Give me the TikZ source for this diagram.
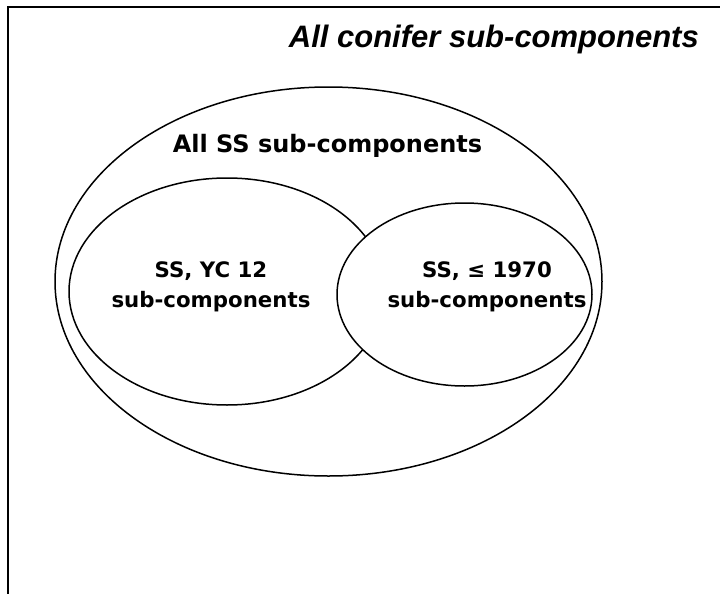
\documentclass[tikz,border=0pt]{standalone}
\usepackage{fontspec}
\setmainfont{DejaVu Sans}
\newfontfamily\titlefont{Liberation Sans}
\usetikzlibrary{shapes.geometric}
\begin{document}
\begin{tikzpicture}[x=1pt,y=-1pt,
  venn/.style={draw=black, line width=1.5pt, ellipse, inner sep=0pt, outer sep=0pt},
  lbl/.style={font=\bfseries\fontsize{21.3}{30}\selectfont, align=center, inner sep=0pt},
  biglbl/.style={font=\bfseries\fontsize{24}{28}\selectfont, inner sep=0pt},
  ttl/.style={font=\titlefont\bfseries\itshape\fontsize{31}{36}\selectfont, inner sep=0pt}]
\useasboundingbox (0,0) rectangle (720,594);
\clip (0,0) rectangle (720,594);
\fill[white] (0,0) rectangle (720,594);
\draw[line width=1.7pt] (8,7) rectangle (760,640);
\node[ttl, anchor=base east] (title) at (699,48) {All conifer sub-components};
\node[venn, minimum width=547pt, minimum height=389pt] (ss) at (328.5,281.5) {};
\node[venn, minimum width=316pt, minimum height=227pt] (yc) at (227,291.5) {};
\node[venn, fill=white, minimum width=255pt, minimum height=183pt] (old) at (464.5,294.5) {};
\node[biglbl, anchor=base] (sslbl) at (327.5,152) {All SS sub-components};
\node[lbl] (yclbl) at (211,286.5) {SS, YC 12\\sub-components};
\node[lbl] (oldlbl) at (487,286.5) {SS, ≤ 1970\\sub-components};
\end{tikzpicture}
\end{document}
